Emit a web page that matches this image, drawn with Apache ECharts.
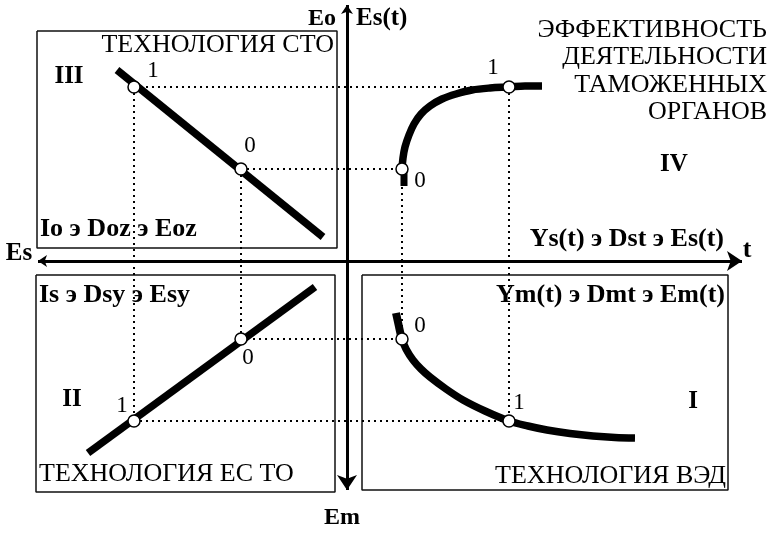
<!DOCTYPE html>
<html><head><meta charset="utf-8">
<script src="https://cdn.jsdelivr.net/npm/echarts@6/dist/echarts.min.js"></script>
<style>html,body{margin:0;padding:0;background:#fff}#c{width:772px;height:533px}</style>
</head><body><div id="c"></div><script>
// ---- diagram data (diagram units; y grows downward) ----
const axisH = [[38,261],[742,261]];
const axisV = [[347,5],[347,490]];
const boxIII = [[37,31],[337,31],[337,248],[37,248],[37,31]];
const boxII = [[36,275],[335,275],[335,492],[36,492],[36,275]];
const boxI = [[362,275],[728,275],[728,490],[362,490],[362,275]];
const lineIII = [[117,70],[323,237]];
const lineII = [[88,453],[315,287]];
const curveIV = [[402,169],[403,158],[405,147],[409,135],[414,124],[421,114],[430,106],[442,99],[456,94],[472,90],[490,88],[509,87],[525,86],[542,86]];
const stubIV = [[404,169],[404,186]];
const curveI = [[402,339],[406,349],[413,360],[421,369],[430,377],[446,389],[463,400],[485,411],[509,421],[528,426],[547,430],[570,433.5],[593,436],[615,437.5],[635,438]];
const stubI = [[396,313],[401,336]];
const markPoints = [[134,87],[241,169],[134,421],[241,339],[402,169],[509,87],[402,339],[509,421]];
const guides = [
  [[134,87],[509,87]], [[134,87],[134,421]],
  [[241,169],[402,169]], [[241,169],[241,339]],
  [[241,339],[402,339]], [[134,421],[509,421]],
  [[402,169],[402,339]], [[509,87],[509,421]]
];
const pointLabels = ['1','0','1','0','0','1','0','1'];

const serif = '"Liberation Serif","Times New Roman",serif';
const chart = echarts.init(document.getElementById('c'), null, {renderer:'canvas'});
function thick(data, w){ return {type:'line', data:data, showSymbol:false, smooth:0.35, z:5,
  lineStyle:{color:'#000', width:w, cap:'butt'}, silent:true}; }
function box(data){ return {type:'line', data:data, showSymbol:false, z:2,
  lineStyle:{color:'#111', width:1.5}, silent:true}; }
function txt(t, x, y, size, bold, align){
  return {type:'text', x:x, y:y, z:100, style:{text:t, font:(bold?'bold ':'')+size+'px '+serif,
    fill:'#000', textAlign:align||'center', align:align||'center', textVerticalAlign:'middle', verticalAlign:'middle'}};
}
const labelPos = [[153,71],[250,146],[122,406],[248,358],[420,181],[493,68],[420,326],[519,403]];
const graphics = [
  txt('Eo',336,19,24,true,'right'), txt('Es(t)',356,19,25,true,'left'),
  txt('ЭФФЕКТИВНОСТЬ',767,30,26,false,'right'),
  txt('ДЕЯТЕЛЬНОСТИ',767,57,26,false,'right'),
  txt('ТАМОЖЕННЫХ',767,85,26,false,'right'),
  txt('ОРГАНОВ',767,112,26,false,'right'),
  txt('IV',674,165,25,true),
  txt('Ys(t) э Dst э Es(t)',724,239,26,true,'right'),
  txt('t',747,250,26,true),
  txt('Es',19,254,25,true),
  txt('ТЕХНОЛОГИЯ СТО',334,45,26,false,'right'),
  txt('III',69,77,25,true),
  txt('Io э Doz э Eoz',40,229,26,true,'left'),
  txt('Is э Dsy э Esy',39,295,26,true,'left'),
  txt('II',72,400,25,true),
  txt('ТЕХНОЛОГИЯ ЕС ТО',39,474,26,false,'left'),
  txt('Ym(t) э Dmt э Em(t)',725,295,26,true,'right'),
  txt('I',693,402,25,true),
  txt('ТЕХНОЛОГИЯ ВЭД',726,476,26,false,'right'),
  txt('Em',342,518,24,true)
];
pointLabels.forEach(function(l,i){ graphics.push(txt(l,labelPos[i][0],labelPos[i][1],23,false)); });

chart.setOption({
  animation:false,
  grid:{left:0,right:0,top:0,bottom:0},
  xAxis:{type:'value',min:0,max:772,show:false},
  yAxis:{type:'value',min:0,max:533,inverse:true,show:false},
  series:[
    {type:'lines', coordinateSystem:'cartesian2d', z:4, silent:true,
     symbol:['arrow','arrow'], symbolSize:[9,15],
     lineStyle:{color:'#000', width:3, opacity:1},
     data:[{coords:axisH},{coords:axisV}]},
    box(boxIII), box(boxII), box(boxI),
    {type:'lines', coordinateSystem:'cartesian2d', z:3, silent:true, symbol:'none',
     lineStyle:{color:'#000', width:2, type:[2,4], opacity:1},
     data:guides.map(function(g){return {coords:g};})},
    thick(lineIII,7.5), thick(lineII,7.5), thick(curveIV,7.5), thick(stubIV,7),
    thick(curveI,7.5), thick(stubI,8),
    {type:'scatter', data:markPoints, symbol:'circle', symbolSize:12, z:10, silent:true,
     itemStyle:{color:'#fff', borderColor:'#000', borderWidth:1.5, opacity:1}}
  ],
  graphic:graphics
});
</script></body></html>
